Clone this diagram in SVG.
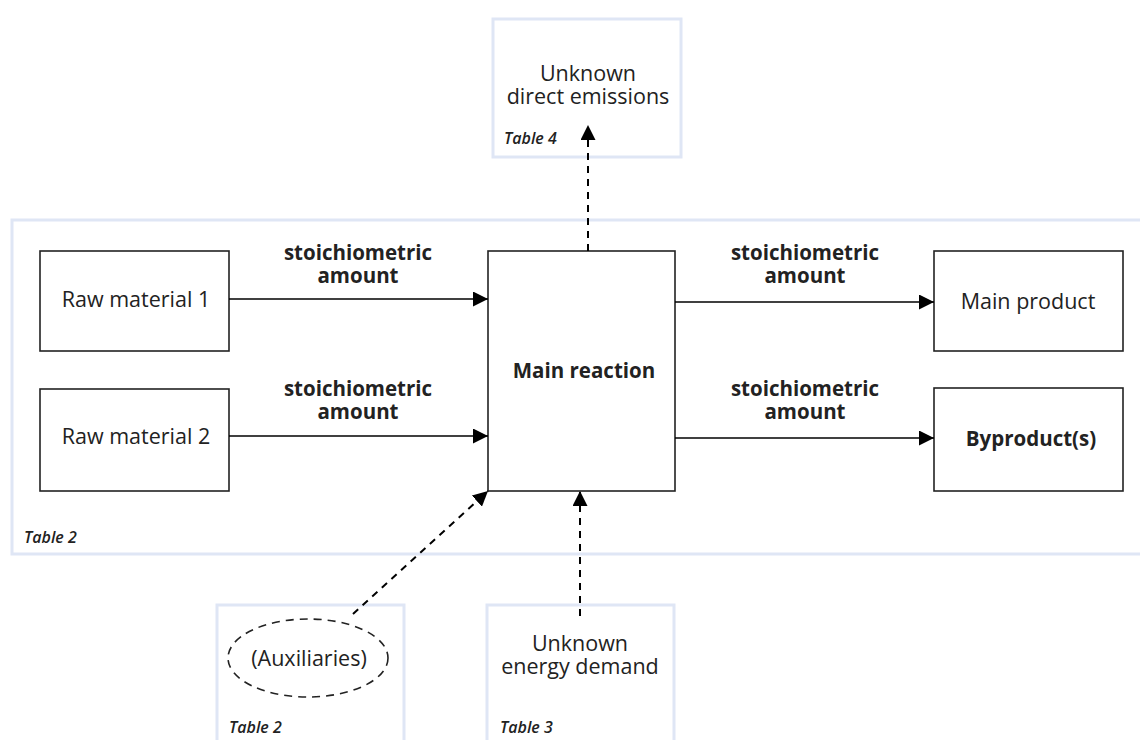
<svg xmlns="http://www.w3.org/2000/svg" width="1140" height="740" viewBox="0 0 1140 740">
<style>
.frame{fill:none;stroke:#dfe6f5;stroke-width:3}
.box{fill:#fff;stroke:#222;stroke-width:1.6}
.t{font-family:"Open Sans","Liberation Sans",sans-serif;font-size:21.5px;fill:#222;text-anchor:middle}
.b{font-weight:bold;font-size:20.5px}
.tab{font-family:"Open Sans","Liberation Sans",sans-serif;font-size:16px;font-style:italic;font-weight:600;fill:#222}
.c{fill:none;stroke:#000;stroke-width:1.6}
.d{fill:none;stroke:#000;stroke-width:2;stroke-dasharray:7 6}
</style>
<defs>
<marker id="ah" viewBox="0 0 10 10" refX="10" refY="5" markerWidth="15" markerHeight="15" markerUnits="userSpaceOnUse" orient="auto"><path d="M0,0 L10,5 L0,10 z" fill="#000"/></marker>
<marker id="ahd" viewBox="0 0 10 10" refX="10" refY="5" markerWidth="7.5" markerHeight="7.5" orient="auto"><path d="M0,0 L10,5 L0,10 z" fill="#000"/></marker>
</defs>
<g id="frame-table2">
<path class="frame" d="M1140,220 H12 V554 H1140"/>
<text class="tab" x="24" y="543">Table 2</text>
</g>
<g id="emissions">
<rect class="frame" x="493" y="19" width="188" height="138"/>
<text class="t" x="588" y="81">Unknown<tspan x="588" dy="23">direct emissions</tspan></text>
<text class="tab" x="504" y="144">Table 4</text>
</g>
<g id="auxiliaries">
<path class="frame" d="M217,740 V605 H404 V740"/>
<ellipse cx="308" cy="658" rx="80" ry="39" fill="none" stroke="#222" stroke-width="1.6" stroke-dasharray="8 6"/>
<text class="t" x="309" y="666">(Auxiliaries)</text>
<text class="tab" x="229" y="733">Table 2</text>
</g>
<g id="energy">
<path class="frame" d="M487,740 V605 H674 V740"/>
<text class="t" x="580" y="651">Unknown<tspan x="580" dy="23">energy demand</tspan></text>
<text class="tab" x="500" y="733">Table 3</text>
</g>
<g id="raw1">
<rect class="box" x="40" y="251" width="189" height="100"/>
<text class="t" x="136" y="307">Raw material 1</text>
</g>
<g id="raw2">
<rect class="box" x="40" y="389" width="189" height="102"/>
<text class="t" x="136" y="444">Raw material 2</text>
</g>
<g id="main-reaction">
<rect class="box" x="488" y="251" width="187" height="240"/>
<text class="t b" x="584" y="378">Main reaction</text>
</g>
<g id="main-product">
<rect class="box" x="934" y="251" width="189" height="100"/>
<text class="t" x="1028" y="309">Main product</text>
</g>
<g id="byproducts">
<rect class="box" x="934" y="388" width="189" height="103"/>
<text class="t b" x="1031" y="446">Byproduct(s)</text>
</g>
<g id="connectors">
<line class="c" x1="229" y1="299" x2="488" y2="299" marker-end="url(#ah)"/>
<line class="c" x1="229" y1="436" x2="488" y2="436" marker-end="url(#ah)"/>
<line class="c" x1="675" y1="302" x2="934" y2="302" marker-end="url(#ah)"/>
<line class="c" x1="675" y1="438" x2="934" y2="438" marker-end="url(#ah)"/>
<line class="d" x1="353" y1="614" x2="488" y2="491" marker-end="url(#ahd)"/>
<line class="d" x1="580" y1="616" x2="580" y2="491" marker-end="url(#ahd)"/>
<line class="d" x1="588" y1="251" x2="588" y2="125" stroke-width="1.4" stroke-dasharray="6 6" marker-end="url(#ah)"/>
<text class="t b" x="358" y="260">stoichiometric<tspan x="358" dy="23">amount</tspan></text>
<text class="t b" x="358" y="396">stoichiometric<tspan x="358" dy="23">amount</tspan></text>
<text class="t b" x="805" y="260">stoichiometric<tspan x="805" dy="23">amount</tspan></text>
<text class="t b" x="805" y="396">stoichiometric<tspan x="805" dy="23">amount</tspan></text>
</g>
</svg>
